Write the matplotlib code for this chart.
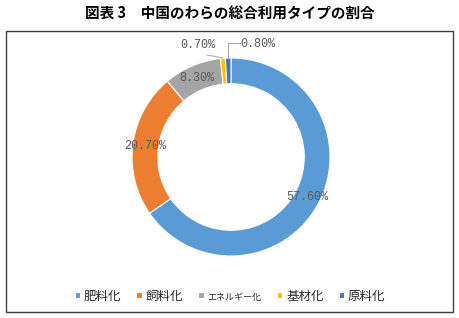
import numpy as np
import matplotlib.pyplot as plt
from matplotlib.patches import Rectangle

plt.rcParams['font.family'] = ['Noto Sans CJK JP', 'DejaVu Sans']

# dane
kategorie = ['肥料化', '飼料化', 'エネルギー化', '基材化', '原料化']
wartosci = [57.6, 20.7, 8.3, 0.7, 0.8]
etykiety = ['57.60%', '20.70%', '8.30%', '0.70%', '0.80%']
kolory = ['#5B9BD5', '#ED7D31', '#A5A5A5', '#FFC000', '#4472C4']

fig = plt.figure(figsize=(4.6, 3.18), dpi=100)

# tytul i ramka
fig.text(0.5, 1 - 14 / 318, '図表 3　中国のわらの総合利用タイプの割合',
         ha='center', va='center', fontsize=10.5, fontweight='bold')
fig.patches.append(Rectangle((6 / 460, 1 - 312 / 318), 447 / 460, 281 / 318,
                             transform=fig.transFigure, fill=False,
                             edgecolor='#404040', linewidth=1.0))

# os dla wykresu pierscieniowego: srodek (231,157), promien 99 px
cx, cy, r = 231, 157, 99
ax = fig.add_axes([(cx - r) / 460, (318 - cy - r) / 318, 2 * r / 460, 2 * r / 318])
wedges, _ = ax.pie(wartosci, colors=kolory, startangle=90, counterclock=False,
                   radius=1.0, wedgeprops=dict(width=0.26, edgecolor='white', linewidth=0.8))
ax.set_xlim(-1, 1)
ax.set_ylim(-1, 1)
ax.set_aspect('equal')
ax.axis('off')

txt = dict(fontsize=8.5, color='#595959', family=['Liberation Mono'], ha='center', va='center')
for i, w in enumerate(wedges):
    kat = np.deg2rad((w.theta1 + w.theta2) / 2)
    x, y = 0.87 * np.cos(kat), 0.87 * np.sin(kat)
    if i < 3:
        ax.text(x, y, etykiety[i], **txt)

# male wycinki - etykiety z linia odniesienia
k3 = np.deg2rad((wedges[3].theta1 + wedges[3].theta2) / 2)
k4 = np.deg2rad((wedges[4].theta1 + wedges[4].theta2) / 2)
ax.text(-0.34, 1.13, etykiety[3], clip_on=False, **txt)
ax.plot([-0.24, np.cos(k3)], [1.03, 1.005 * np.sin(k3)],
        color='#A5A5A5', lw=0.7, clip_on=False)
ax.text(0.27, 1.14, etykiety[4], clip_on=False, **txt)
ax.plot([0.09, np.cos(k4), np.cos(k4)], [1.15, 1.15, 0.99 * np.sin(k4)],
        color='#A5A5A5', lw=0.7, clip_on=False)

leg = fig.legend(wedges, kategorie, loc='center', bbox_to_anchor=(0.5, 1 - 296 / 318),
                 ncol=5, frameon=False, fontsize=9, handlelength=0.45, handleheight=0.45,
                 handletextpad=0.3, columnspacing=1.2, labelcolor='#262626')
leg.get_texts()[2].set_fontsize(6.5)

fig.savefig('out.png', dpi=100)
